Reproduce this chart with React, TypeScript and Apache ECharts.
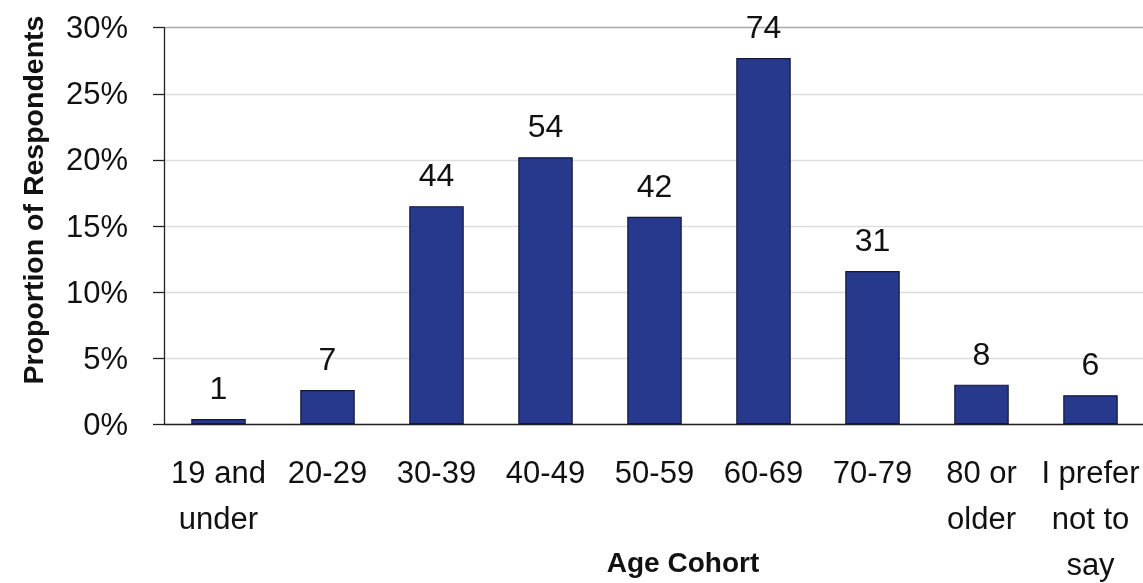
import React, { useEffect, useRef } from "react";
import * as echarts from "echarts";

const categories = ["19 and\nunder", "20-29", "30-39", "40-49", "50-59", "60-69", "70-79", "80 or\nolder", "I prefer\nnot to\nsay"];
const proportions = [0.4, 2.6, 16.5, 20.2, 15.7, 27.7, 11.6, 3.0, 2.2];
const counts = [1, 7, 44, 54, 42, 74, 31, 8, 6];
const yTicks = [0, 5, 10, 15, 20, 25, 30];

export default function App() {
  const ref = useRef<HTMLDivElement>(null);
  useEffect(() => {
    if (!ref.current) return;
    const chart = echarts.init(ref.current, null, { renderer: "svg" });
    const font = "'Liberation Sans', Arial, Helvetica, sans-serif";
    chart.setOption({
      animation: false,
      textStyle: { fontFamily: font, color: "#111" },
      grid: { left: 164, right: -2, top: 27.7, bottom: 158.7, containLabel: false, outerBoundsMode: "none" },
      xAxis: {
        type: "category",
        data: categories,
        axisLine: { lineStyle: { color: "#222", width: 1.3 } },
        axisTick: { length: 11, lineStyle: { color: "#222", width: 1.3 } },
        axisLabel: { fontSize: 31, color: "#111", lineHeight: 46, margin: 25, interval: 0, fontFamily: font },
      },
      yAxis: {
        type: "value",
        min: 0,
        max: 30,
        interval: 5,
        axisLine: { show: true, lineStyle: { color: "#222", width: 1.3 } },
        axisTick: { show: true, length: 11, lineStyle: { color: "#222", width: 1.3 } },
        axisLabel: {
          fontSize: 31,
          color: "#111",
          margin: 36,
          fontFamily: font,
          formatter: (v: number) => (yTicks.includes(v) ? v + "%" : ""),
        },
        splitLine: {
          lineStyle: { color: ["#ddd", "#ddd", "#ddd", "#ddd", "#ddd", "#ddd", "#aaa"], width: 1.3 },
        },
      },
      graphic: [
        {
          type: "text",
          x: 33,
          y: 200,
          rotation: Math.PI / 2,
          style: {
            text: "Proportion of Respondents",
            fontSize: 28.5,
            fontWeight: "bold",
            fontFamily: font,
            fill: "#111",
            textAlign: "center",
            textVerticalAlign: "middle",
          },
        },
        {
          type: "text",
          x: 683,
          y: 562,
          style: {
            text: "Age Cohort",
            fontSize: 28,
            fontWeight: "bold",
            fontFamily: font,
            fill: "#111",
            textAlign: "center",
            textVerticalAlign: "middle",
          },
        },
      ],
      series: [
        {
          type: "bar",
          data: proportions,
          barCategoryGap: "50%",
          itemStyle: { color: "#27398c", borderColor: "#15173a", borderWidth: 1.2 },
          label: {
            show: true,
            position: "top",
            distance: 15,
            fontSize: 32,
            color: "#111",
            fontFamily: font,
            formatter: (p: any) => String(counts[p.dataIndex]),
          },
        },
      ],
    });
    return () => chart.dispose();
  }, []);
  return <div ref={ref} style={{ position: "fixed", left: 0, top: 0, width: 1143, height: 583 }} />;
}
